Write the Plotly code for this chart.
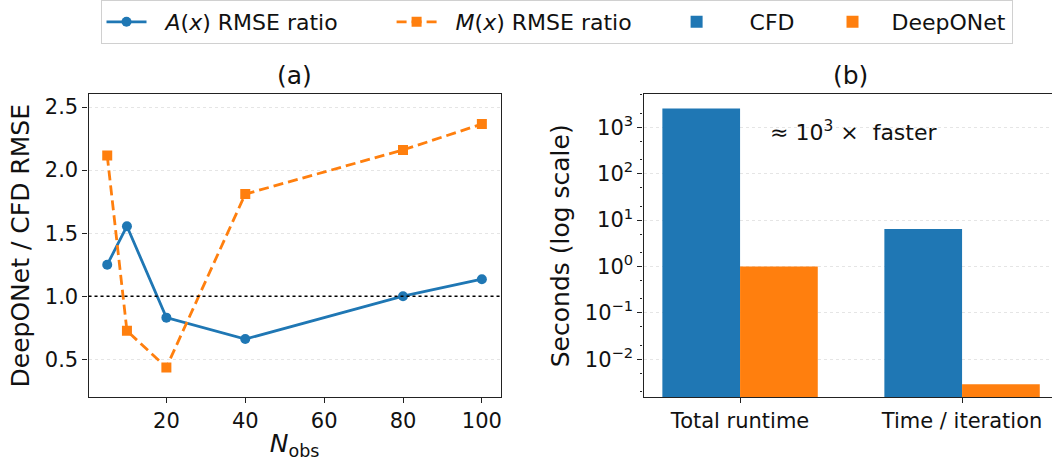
import plotly.graph_objects as go

# ---------------- data ----------------
n_obs = [5, 10, 20, 40, 80, 100]
a_ratio = [1.25, 1.555, 0.83, 0.66, 1.00, 1.135]
m_ratio = [2.115, 0.725, 0.435, 1.81, 2.16, 2.365]

bar_cats = ["Total runtime", "Time / iteration"]
cfd_secs = [2550.0, 6.4]
deeponet_secs = [1.0, 0.0029]

left_yticks = [0.5, 1.0, 1.5, 2.0, 2.5]
left_xticks = [20, 40, 60, 80, 100]
log_tickvals = [1e-2, 1e-1, 1e0, 1e1, 1e2, 1e3]
log_ticktext = ["10<sup>\u22122</sup>", "10<sup>\u22121</sup>", "10<sup>0</sup>",
                "10<sup>1</sup>", "10<sup>2</sup>", "10<sup>3</sup>"]

BLUE = "#1f77b4"
ORANGE = "#ff7f0e"
FONT = "DejaVu Sans"
W, H = 1052, 461
NB = "\u00a0"

fig = go.Figure()

fig.add_trace(go.Scatter(
    x=n_obs, y=a_ratio, mode="lines+markers",
    name=NB * 2 + "<i>A</i>(<i>x</i>) RMSE ratio" + NB * 7,
    line=dict(color=BLUE, width=2.8),
    marker=dict(symbol="circle", size=10, color=BLUE),
    xaxis="x", yaxis="y"))
fig.add_trace(go.Scatter(
    x=n_obs, y=m_ratio, mode="lines+markers",
    name=NB * 2 + "<i>M</i>(<i>x</i>) RMSE ratio" + NB * 5,
    line=dict(color=ORANGE, width=2.8, dash="10px,5px"),
    marker=dict(symbol="square", size=10, color=ORANGE),
    xaxis="x", yaxis="y"))

fig.add_trace(go.Bar(x=bar_cats, y=cfd_secs, name=NB * 4 + "CFD" + NB * 4,
                     marker=dict(color=BLUE, line=dict(width=0)),
                     xaxis="x2", yaxis="y2"))
fig.add_trace(go.Bar(x=bar_cats, y=deeponet_secs, name=NB * 2 + "DeepONet",
                     marker=dict(color=ORANGE, line=dict(width=0)),
                     xaxis="x2", yaxis="y2"))

ybot = (H - 395.5) / H
ytop = (H - 85.5) / H
GRID = "rgba(0,0,0,0.10)"
ax_common = dict(showline=True, linecolor="#222", linewidth=1.2,
                 ticks="outside", ticklen=5, tickwidth=1, tickcolor="#222",
                 tickfont=dict(size=21, color="#111", family=FONT),
                 zeroline=False)

fig.update_layout(
    width=W, height=H,
    margin=dict(l=0, r=0, t=0, b=0),
    paper_bgcolor="white", plot_bgcolor="white",
    font=dict(family=FONT, color="#111"),
    barmode="group", bargap=0.3, bargroupgap=0,
    showlegend=True,
    legend=dict(orientation="h", x=0.529, xanchor="center", y=1.025, yanchor="top",
                font=dict(size=22, family=FONT),
                bordercolor="#d0d0d0", borderwidth=1, bgcolor="white",
                itemwidth=40),
    xaxis=dict(domain=[88.5 / W, 500.6 / W], range=[0.25, 104.75],
               tickvals=left_xticks, mirror=True, showgrid=False,
               title=dict(text="<i>N</i><sub>obs</sub>", font=dict(size=25), standoff=8),
               anchor="y", **ax_common),
    yaxis=dict(domain=[ybot, ytop], range=[0.2, 2.6], tickvals=left_yticks,
               ticktext=["0.5", "1.0", "1.5", "2.0", "2.5"],
               mirror=True, showgrid=True, gridcolor=GRID,
               griddash="dot", gridwidth=1,
               title=dict(text="DeepONet / CFD RMSE", font=dict(size=25), standoff=8),
               anchor="x", **ax_common),
    xaxis2=dict(domain=[643.5 / W, 1.0], range=[-0.435, -0.435 + (W - 643.5) / 222.0],
                type="category", mirror=True, showgrid=False,
                anchor="y2", **ax_common),
    yaxis2=dict(domain=[ybot, ytop], type="log", range=[-2.815, 3.707],
                tickvals=log_tickvals, ticktext=log_ticktext,
                showgrid=True, gridcolor=GRID, griddash="dot", gridwidth=1,
                minor=dict(ticks="outside", ticklen=2.5, tickcolor="#222", showgrid=False),
                title=dict(text="Seconds (log scale)", font=dict(size=25), standoff=8),
                anchor="x2", **ax_common),
)

# reference line at ratio 1
fig.add_shape(type="line", xref="x domain", yref="y", x0=0, x1=1, y0=1.0, y1=1.0,
              line=dict(color="black", width=1.6, dash="dot"))

# subplot titles and annotation
fig.add_annotation(text="(a)", xref="paper", yref="paper", x=294.5 / W, y=(H - 66) / H,
                   showarrow=False, font=dict(size=25, family=FONT, color="#111"),
                   xanchor="center", yanchor="middle")
fig.add_annotation(text="(b)", xref="paper", yref="paper", x=850.5 / W, y=(H - 66) / H,
                   showarrow=False, font=dict(size=25, family=FONT, color="#111"),
                   xanchor="center", yanchor="middle")
fig.add_annotation(text="\u2248 10<sup>3</sup> \u00d7  faster", xref="paper", yref="paper",
                   x=768 / W, y=(H - 123) / H, showarrow=False,
                   font=dict(size=22, family=FONT, color="#111"),
                   xanchor="left", yanchor="middle")

fig.write_html("out.html", config={"displayModeBar": False},
               post_script="document.body.style.margin='0';")
